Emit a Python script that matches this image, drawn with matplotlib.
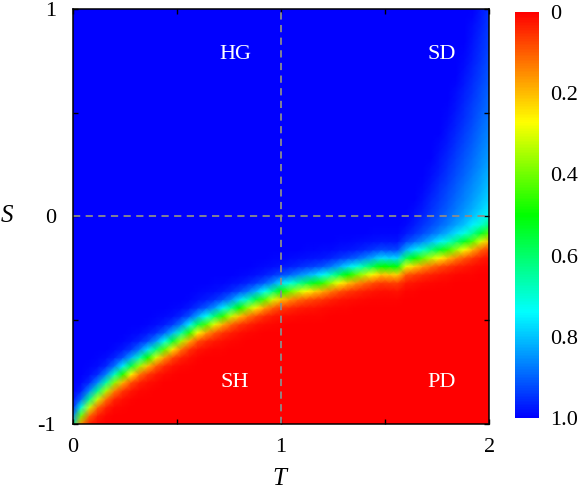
# Cooperation level over the (T, S) game plane, with the four game regions marked.

import numpy as np
import matplotlib.pyplot as plt
from matplotlib.colors import LinearSegmentedColormap

# Border between cooperation (blue) and defection (red): S at each T
border_t = [0.0, 0.05, 0.1, 0.15, 0.2, 0.3, 0.4, 0.5, 0.6, 0.7, 0.8, 0.9, 1.0,
            1.1, 1.2, 1.3, 1.4, 1.5, 1.55, 1.6, 1.7, 1.8, 1.9, 2.0]
border_s = [-1.02, -0.93, -0.875, -0.83, -0.785, -0.715, -0.655, -0.595, -0.53, -0.485,
            -0.44, -0.40, -0.36, -0.335, -0.315, -0.285, -0.26, -0.235, -0.25,
            -0.215, -0.19, -0.165, -0.135, -0.09]

# Softening of full cooperation near the right edge (snowdrift corner)
fade_s = [-0.2, 0.0, 0.25, 0.5, 0.75, 1.0]
fade_t0 = [1.52, 1.60, 1.70, 1.78, 1.85, 1.91]
fade_edge = [0.70, 0.76, 0.83, 0.88, 0.92, 0.95]

region_names = ["HG", "SD", "SH", "PD"]
region_t = [0.78, 1.77, 0.78, 1.77]
region_s = [0.78, 0.78, -0.80, -0.80]

cbar_ticks = [0, 0.2, 0.4, 0.6, 0.8, 1.0]
cbar_labels = ["0", "0.2", "0.4", "0.6", "0.8", "1.0"]

plt.rcParams["font.family"] = "serif"
plt.rcParams["font.serif"] = ["Liberation Serif"]
plt.rcParams["mathtext.fontset"] = "custom"
plt.rcParams["mathtext.it"] = "Liberation Serif:italic"
plt.rcParams["mathtext.rm"] = "Liberation Serif"
plt.rcParams["axes.unicode_minus"] = False

rainbow = LinearSegmentedColormap.from_list(
    "rainbow_rb",
    [(0.0, "#ff0000"), (0.27, "#ffff00"), (0.5, "#00ff00"),
     (0.74, "#00ffff"), (1.0, "#0000ff")],
)

# simulation grid: 0.04 steps in T and S
tt, ss = np.meshgrid(np.linspace(0, 2, 51), np.linspace(-1, 1, 51))
border = np.interp(tt, border_t, border_s)
dist = ss - border
width = np.where(dist > 0, 0.032, 0.03)
level = 1.0 / (1.0 + np.exp(-dist / width))

t0 = np.interp(ss, fade_s, fade_t0)
edge = np.interp(ss, fade_s, fade_edge)
frac = np.clip((tt - t0) / (2.0 - t0), 0, 1)
level = level * (1 - (1 - edge) * frac ** 1.2)

fig = plt.figure(figsize=(5.78, 4.93), dpi=100)
ax = fig.add_axes([0.1258, 0.14, 0.7207, 0.8418])
mesh = ax.pcolormesh(tt, ss, level, cmap=rainbow, vmin=0, vmax=1,
                     shading="gouraud", rasterized=True)

ax.axvline(1, color="#8c8c8c", lw=1.3, dashes=(4, 3))
ax.axhline(0, color="#8c8c8c", lw=1.3, dashes=(4, 3))

for name, t, s in zip(region_names, region_t, region_s):
    ax.text(t, s, name, color="white", fontsize=16, ha="center", va="center")

ax.set_xlim(0, 2)
ax.set_ylim(-1, 1)
ax.set_xticks([0, 1, 2])
ax.set_xticks([0.5, 1.5], minor=True)
ax.set_yticks([-1, 0, 1])
ax.set_yticks([-0.5, 0.5], minor=True)
ax.tick_params(which="both", direction="in", length=3.5, width=1,
               top=True, right=True, labelsize=16, pad=10)
ax.tick_params(axis="y", pad=12)
for sp in ax.spines.values():
    sp.set_linewidth(1.1)

ax.set_xlabel("$T$", fontsize=18, labelpad=8)
ax.set_ylabel("$S$", fontsize=18, rotation=0, labelpad=22, va="center")

cax = fig.add_axes([0.891, 0.152, 0.0415, 0.8235])
cb = fig.colorbar(mesh, cax=cax)
cb.outline.set_visible(False)
cax.invert_yaxis()
cb.set_ticks(cbar_ticks)
cb.set_ticklabels(cbar_labels)
cax.tick_params(length=0, labelsize=16, pad=8)

fig.savefig("out.png", dpi=100)
